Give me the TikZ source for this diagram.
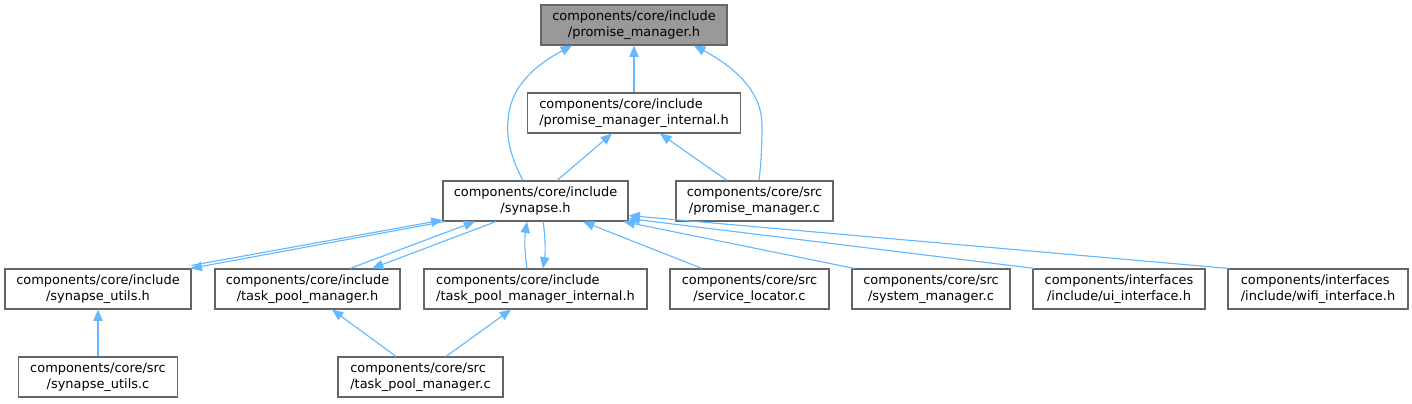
\documentclass[tikz,border=0pt]{standalone}
\usepackage{fontspec}
\setmainfont{DejaVu Sans}
\usetikzlibrary{arrows.meta,calc}
\definecolor{edgec}{HTML}{63B8FF}
\definecolor{bord}{HTML}{666666}
\definecolor{rootfill}{HTML}{999999}
\newdimen\twolw
\newcommand\twol[2]{\setbox0=\hbox{#1}\setbox2=\hbox{#2}%
  \ifdim\wd0>\wd2 \twolw=\wd0 \else \twolw=\wd2 \fi
  \begin{tabular}{@{}l@{}}\hbox to\twolw{#1\hfil}\\\hbox to\twolw{\hfil#2\hfil}\end{tabular}}
\begin{document}
\begin{tikzpicture}[x=0.75pt,y=-0.75pt,
  box/.style={draw=bord,line width=0.85pt,fill=white,inner sep=0pt,minimum height=30pt,
    font=\fontsize{9.7pt}{12pt}\selectfont},
  bw/.style={minimum width=#1*0.75pt},
  root/.style={fill=rootfill},
  dep/.style={draw=edgec,line width=0.85pt,-{Triangle[length=8.5pt,width=7pt]}}]
\useasboundingbox (0,0) rectangle (1412,403);
% nodes
\node[box,root,bw=186] (PM)   at (634,25)    {\twol{components/core/include}{/promise\_manager.h}};
\node[box,bw=213]      (PMI)  at (634,113)   {\twol{components/core/include}{/promise\_manager\_internal.h}};
\node[box,bw=185]      (SY)   at (535.5,201) {\twol{components/core/include}{/synapse.h}};
\node[box,bw=157]      (PMC)  at (754.5,201) {\twol{components/core/src}{/promise\_manager.c}};
\node[box,bw=186]      (SUH)  at (98,289)    {\twol{components/core/include}{/synapse\_utils.h}};
\node[box,bw=185]      (TPM)  at (307.5,289) {\twol{components/core/include}{/task\_pool\_manager.h}};
\node[box,bw=223]      (TPMI) at (535.5,289) {\twol{components/core/include}{/task\_pool\_manager\_internal.h}};
\node[box,bw=159]      (SL)   at (749.5,289) {\twol{components/core/src}{/service\_locator.c}};
\node[box,bw=158]      (SM)   at (931,289)   {\twol{components/core/src}{/system\_manager.c}};
\node[box,bw=172]      (UI)   at (1119,289)  {\twol{components/interfaces}{/include/ui\_interface.h}};
\node[box,bw=180]      (WI)   at (1318,289)  {\twol{components/interfaces}{/include/wifi\_interface.h}};
\node[box,bw=159]      (SUC)  at (98,377)    {\twol{components/core/src}{/synapse\_utils.c}};
\node[box,bw=165]      (TPC)  at (420.5,377) {\twol{components/core/src}{/task\_pool\_manager.c}};
% edges
\draw[dep] (PMI.north) -- (PMI.north |- PM.south);
\draw[dep] ($(SY.north)+(-12.5,0)$) .. controls (512,160) and (506,140) .. (508,120)
           .. controls (510,90) and (530,68) .. ($(PM.south)+(-62,0)$);
\draw[dep] ($(PMC.north)+(4.5,0)$) .. controls (761,165) and (762,145) .. (762,125)
           .. controls (762,95) and (740,70) .. ($(PM.south)+(60,0)$);
\draw[dep] ($(SY.north)+(21.5,0)$) -- ($(PMI.south)+(-22,0)$);
\draw[dep] ($(PMC.north)+(-27.5,0)$) -- ($(PMI.south)+(26,0)$);
\draw[dep] ($(SUH.north east)+(0,-3)$) -- ($(SY.south west)+(0,-1.5)$);
\draw[dep] ($(SY.south west)+(2,0)$) -- ($(SUH.north east)+(-1,0)$);
\draw[dep] ($(TPM.north)+(42.5,0)$) -- ($(SY.south)+(-60.5,0)$);
\draw[dep] ($(SY.south)+(-39.5,0)$) -- ($(TPM.north)+(64.5,0)$);
\draw[dep] ($(TPMI.north)+(-8.5,0)$) .. controls +(-2.5,-16) and +(-2.5,16) .. ($(SY.south)+(-8.5,0)$);
\draw[dep] ($(SY.south)+(7.5,0)$) .. controls +(2.5,16) and +(2.5,-16) .. ($(TPMI.north)+(7.5,0)$);
\draw[dep] ($(SL.north)+(-47.5,0)$) -- ($(SY.south)+(47.5,0)$);
\draw[dep] ($(SM.north west)+(3,0)$) -- ($(SY.south east)+(-5,0)$);
\draw[dep] ($(UI.north west)+(2,0)$) -- ($(SY.south east)+(0,-3)$);
\draw[dep] ($(WI.north west)+(1,0)$) -- ($(SY.south east)+(0,-6)$);
\draw[dep] (SUC.north) -- (SUC.north |- SUH.south);
\draw[dep] ($(TPC.north)+(-24.5,0)$) -- ($(TPM.south)+(24.5,0)$);
\draw[dep] ($(TPC.north)+(25.5,0)$) -- ($(TPMI.south)+(-24.5,0)$);
\end{tikzpicture}
\end{document}
